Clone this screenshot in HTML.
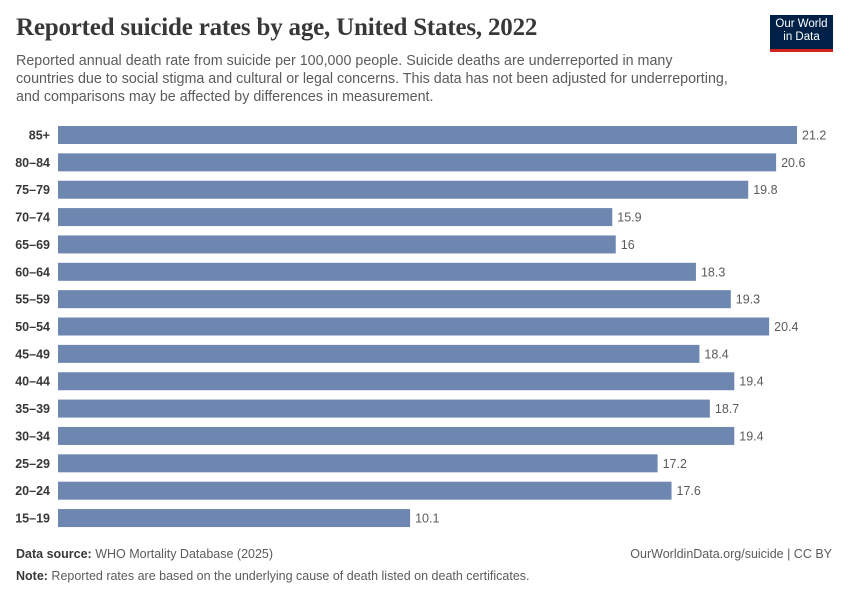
<!DOCTYPE html>
<html><head><meta charset="utf-8"><style>
body{margin:0;background:#fff;width:850px;height:600px;overflow:hidden;font-family:"Liberation Sans",sans-serif;position:relative}
.t{position:absolute;left:16px;top:14px;font-family:"Liberation Serif",serif;font-size:25px;font-weight:bold;color:#383838;letter-spacing:-0.2px}
.s{position:absolute;left:16px;top:52px;font-size:14.3px;line-height:18px;color:#5b5b5b;white-space:nowrap}
.logo{position:absolute;left:770px;top:15px;width:63px;height:37px;background:#002147;color:#fff;font-size:11.5px;line-height:13px;text-align:center;padding-top:3px;box-sizing:border-box;border-bottom:3px solid #ce261e}
.f{position:absolute;font-size:12.5px;color:#5b5b5b}
.f b{color:#383838;font-weight:bold}
</style></head><body>
<div class="t">Reported suicide rates by age, United States, 2022</div>
<div class="s">Reported annual death rate from suicide per 100,000 people. Suicide deaths are underreported in many<br>countries due to social stigma and cultural or legal concerns. This data has not been adjusted for underreporting,<br>and comparisons may be affected by differences in measurement.</div>
<div class="logo">Our World<br>in Data</div>
<svg width="850" height="600" style="position:absolute;left:0;top:0" font-family="Liberation Sans, sans-serif" font-size="12.5">
<g id="g"></g>
</svg>
<div class="f" style="left:16px;top:547px"><b>Data source:</b> WHO Mortality Database (2025)</div>
<div class="f" style="right:18px;top:547px">OurWorldinData.org/suicide | CC BY</div>
<div class="f" style="left:16px;top:569px"><b>Note:</b> Reported rates are based on the underlying cause of death listed on death certificates.</div>
<script>
var d=[["85+",21.2],["80–84",20.6],["75–79",19.8],["70–74",15.9],["65–69",16],["60–64",18.3],["55–59",19.3],["50–54",20.4],["45–49",18.4],["40–44",19.4],["35–39",18.7],["30–34",19.4],["25–29",17.2],["20–24",17.6],["15–19",10.1]];
var s="";d.forEach(function(r,i){var y=135+i*27.36;var w=r[1]*34.86;
s+='<text x="50" y="'+(y+4.5)+'" text-anchor="end" fill="#383838" font-weight="bold">'+r[0]+'</text>';
s+='<rect x="58" y="'+(y-9)+'" width="'+w+'" height="18" fill="#6d87b0"/>';
s+='<text x="'+(58+w+5)+'" y="'+(y+4.5)+'" fill="#5b5b5b">'+r[1]+'</text>';});
document.getElementById("g").innerHTML=s;
</script>
</body></html>
